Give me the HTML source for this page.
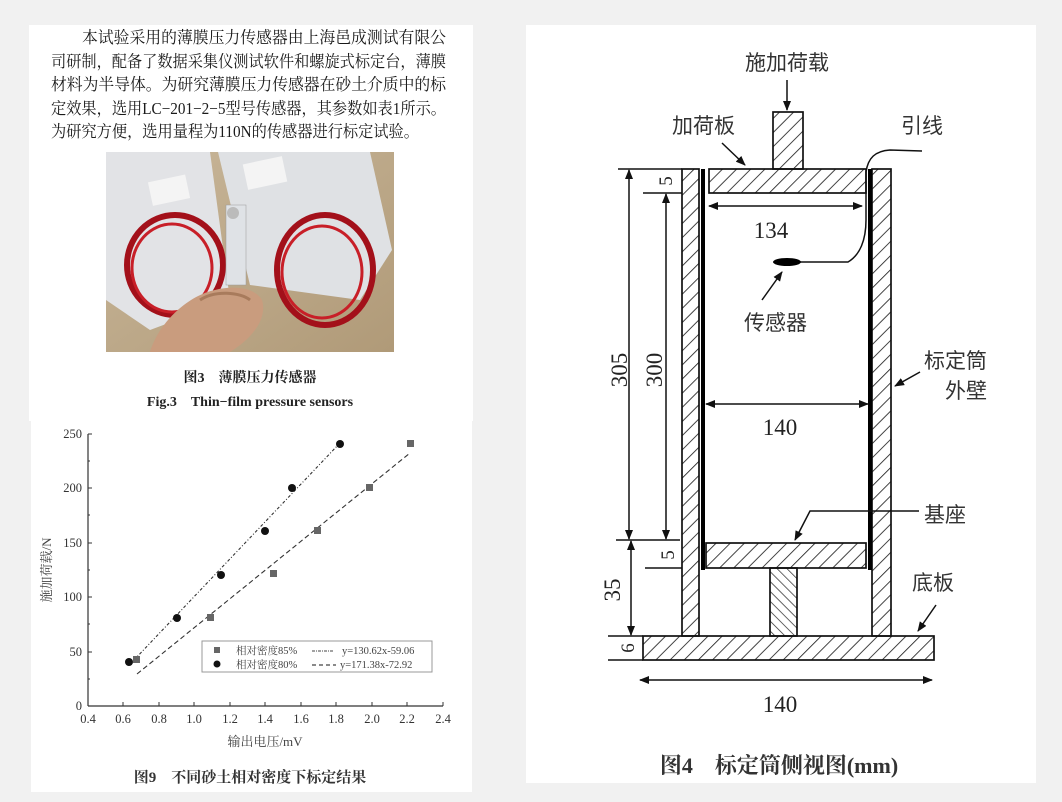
<!DOCTYPE html>
<html><head><meta charset="utf-8"><style>
html,body{margin:0;padding:0;background:#f1f1f1;width:1062px;height:802px;overflow:hidden}
svg{display:block}
.s{font-family:"Liberation Serif","Noto Serif CJK SC",serif}
.k{font-family:"Liberation Sans","Noto Sans CJK SC",sans-serif}
</style></head><body>
<svg width="1062" height="802" viewBox="0 0 1062 802" xmlns="http://www.w3.org/2000/svg">
<defs>
<pattern id="h" patternUnits="userSpaceOnUse" width="10" height="10" patternTransform="rotate(45)">
<line x1="0" y1="0" x2="0" y2="10" stroke="#222" stroke-width="1.7"/></pattern>
<pattern id="h2" patternUnits="userSpaceOnUse" width="7" height="7" patternTransform="rotate(-45)">
<line x1="0" y1="0" x2="0" y2="7" stroke="#222" stroke-width="1.4"/></pattern>
<marker id="a" markerWidth="10" markerHeight="8" refX="9" refY="4" orient="auto-start-reverse" markerUnits="userSpaceOnUse">
<path d="M0,0 L10,4 L0,8 Z" fill="#111"/></marker>
<linearGradient id="wood" x1="0" y1="0" x2="1" y2="1"><stop offset="0" stop-color="#c9b79a"/><stop offset="1" stop-color="#b09a78"/></linearGradient>
</defs>
<rect x="29" y="25" width="444" height="396" fill="#fff"/>
<rect x="31" y="421" width="441" height="371" fill="#fff"/>
<rect x="526" y="25" width="510" height="758" fill="#fff"/>

<g class="s" font-size="16.5" fill="#1a1a1a">
<text x="82" y="43" textLength="364" lengthAdjust="spacingAndGlyphs">本试验采用的薄膜压力传感器由上海邑成测试有限公</text>
<text x="51" y="67" textLength="395" lengthAdjust="spacingAndGlyphs">司研制，配备了数据采集仪测试软件和螺旋式标定台，薄膜</text>
<text x="51" y="90" textLength="395" lengthAdjust="spacingAndGlyphs">材料为半导体。为研究薄膜压力传感器在砂土介质中的标</text>
<text x="51" y="114" textLength="395" lengthAdjust="spacingAndGlyphs">定效果，选用LC−201−2−5型号传感器，其参数如表1所示。</text>
<text x="51" y="137" textLength="368" lengthAdjust="spacingAndGlyphs">为研究方便，选用量程为110N的传感器进行标定试验。</text>
</g>

<g>
<rect x="106" y="152" width="288" height="200" fill="url(#wood)"/>
<polygon points="106,152 210,152 230,300 150,330 106,300" fill="#e2e3e6"/>
<polygon points="218,152 370,152 392,250 360,300 250,285" fill="#dfe1e4"/>
<rect x="150" y="178" width="38" height="24" fill="#f4f4f4" transform="rotate(-12 170 190)"/>
<rect x="245" y="160" width="40" height="26" fill="#f4f4f4" transform="rotate(-12 265 173)"/>
<ellipse cx="175" cy="265" rx="48" ry="50" fill="none" stroke="#a3101a" stroke-width="6"/>
<ellipse cx="172" cy="268" rx="40" ry="44" fill="none" stroke="#c81f28" stroke-width="3"/>
<ellipse cx="325" cy="270" rx="48" ry="55" fill="none" stroke="#a3101a" stroke-width="6"/>
<ellipse cx="322" cy="272" rx="40" ry="46" fill="none" stroke="#c81f28" stroke-width="3"/>
<rect x="226" y="205" width="20" height="80" fill="#dfe2e6" stroke="#999" stroke-width="0.5"/>
<circle cx="233" cy="213" r="6" fill="#bbb"/>
<path d="M150,352 C160,320 190,295 215,290 C235,285 255,288 262,300 C268,320 250,340 230,352 Z" fill="#c99c7e"/>
<path d="M200,300 C215,290 240,292 250,300" stroke="#a87b5c" stroke-width="3" fill="none"/>
</g>

<g class="s" font-weight="bold" fill="#222" text-anchor="middle">
<text x="250" y="382" font-size="14">图3　薄膜压力传感器</text>
<text x="250" y="406" font-size="14">Fig.3　Thin−film pressure sensors</text>
</g>

<g stroke="#333" stroke-width="1.2" fill="none">
<line x1="88" y1="434" x2="88" y2="706"/>
<line x1="88" y1="706" x2="443" y2="706"/>
</g>
<g stroke="#333" stroke-width="1">
<line x1="88" y1="434" x2="92" y2="434"/><line x1="88" y1="461" x2="90" y2="461"/>
<line x1="88" y1="488" x2="92" y2="488"/><line x1="88" y1="515" x2="90" y2="515"/>
<line x1="88" y1="543" x2="92" y2="543"/><line x1="88" y1="570" x2="90" y2="570"/>
<line x1="88" y1="597" x2="92" y2="597"/><line x1="88" y1="624" x2="90" y2="624"/>
<line x1="88" y1="652" x2="92" y2="652"/><line x1="88" y1="679" x2="90" y2="679"/>
<line x1="123" y1="706" x2="123" y2="702"/><line x1="159" y1="706" x2="159" y2="702"/>
<line x1="194" y1="706" x2="194" y2="702"/><line x1="230" y1="706" x2="230" y2="702"/>
<line x1="265" y1="706" x2="265" y2="702"/><line x1="301" y1="706" x2="301" y2="702"/>
<line x1="336" y1="706" x2="336" y2="702"/><line x1="372" y1="706" x2="372" y2="702"/>
<line x1="407" y1="706" x2="407" y2="702"/><line x1="443" y1="706" x2="443" y2="702"/>
</g>
<g class="s" font-size="12.5" fill="#333" text-anchor="end">
<text x="82" y="438">250</text><text x="82" y="492">200</text><text x="82" y="547">150</text>
<text x="82" y="601">100</text><text x="82" y="656">50</text><text x="82" y="710">0</text>
</g>
<g class="s" font-size="12.5" fill="#333" text-anchor="middle">
<text x="88" y="723">0.4</text><text x="123" y="723">0.6</text><text x="159" y="723">0.8</text>
<text x="194" y="723">1.0</text><text x="230" y="723">1.2</text><text x="265" y="723">1.4</text>
<text x="301" y="723">1.6</text><text x="336" y="723">1.8</text><text x="372" y="723">2.0</text>
<text x="407" y="723">2.2</text><text x="443" y="723">2.4</text>
</g>
<text class="s" x="265" y="746" font-size="13" fill="#444" text-anchor="middle">输出电压/mV</text>
<text class="s" transform="translate(51 570) rotate(-90)" font-size="13" fill="#444" text-anchor="middle">施加荷载/N</text>
<line x1="134" y1="660" x2="339" y2="444" stroke="#333" stroke-width="1.1" stroke-dasharray="3,2,1,2"/>
<line x1="137" y1="674" x2="410" y2="453" stroke="#333" stroke-width="1.1" stroke-dasharray="5,3"/>
<g fill="#666">
<rect x="133" y="656" width="7" height="7"/><rect x="207" y="614" width="7" height="7"/>
<rect x="270" y="570" width="7" height="7"/><rect x="314" y="527" width="7" height="7"/>
<rect x="366" y="484" width="7" height="7"/><rect x="407" y="440" width="7" height="7"/>
</g>
<g fill="#111">
<circle cx="129" cy="662" r="4"/><circle cx="177" cy="618" r="4"/><circle cx="221" cy="575" r="4"/>
<circle cx="265" cy="531" r="4"/><circle cx="292" cy="488" r="4"/><circle cx="340" cy="444" r="4"/>
</g>
<rect x="202" y="641" width="230" height="31" fill="#fff" stroke="#999" stroke-width="1"/>
<rect x="214" y="647" width="6" height="6" fill="#666"/>
<circle cx="217" cy="664" r="3.5" fill="#111"/>
<g class="s" font-size="10.5" fill="#444">
<text x="236" y="654">相对密度85%</text><text x="236" y="668">相对密度80%</text>
<text x="342" y="654">y=130.62x-59.06</text><text x="340" y="668">y=171.38x-72.92</text>
</g>
<line x1="312" y1="651" x2="333" y2="651" stroke="#444" stroke-width="1" stroke-dasharray="3,1,1,1"/>
<line x1="312" y1="665" x2="336" y2="665" stroke="#444" stroke-width="1.2" stroke-dasharray="4,3"/>
<text class="s" x="250" y="782" font-size="15" font-weight="bold" fill="#333" text-anchor="middle">图9　不同砂土相对密度下标定结果</text>

<g stroke="#111" stroke-width="1.7">
<rect x="773" y="112" width="30" height="57" fill="url(#h)"/>
<rect x="709" y="169" width="157" height="24" fill="url(#h)"/>
<rect x="682" y="169" width="17" height="467" fill="url(#h)"/>
<rect x="872" y="169" width="19" height="467" fill="url(#h)"/>
<rect x="706" y="543" width="160" height="25" fill="url(#h)"/>
<rect x="770" y="568" width="27" height="68" fill="url(#h2)"/>
<rect x="643" y="636" width="291" height="24" fill="url(#h)"/>
</g>
<g stroke="#000" stroke-width="4">
<line x1="703" y1="169" x2="703" y2="570"/>
<line x1="870" y1="169" x2="870" y2="570"/>
</g>
<g stroke="#111" stroke-width="1.5" fill="none">
<line x1="618" y1="169" x2="682" y2="169"/>
<line x1="643" y1="193" x2="682" y2="193"/>
<line x1="616" y1="540" x2="680" y2="540"/>
<line x1="645" y1="568" x2="682" y2="568"/>
<line x1="608" y1="636" x2="643" y2="636"/>
<line x1="608" y1="660" x2="643" y2="660"/>
<line x1="629" y1="170" x2="629" y2="539" marker-start="url(#a)" marker-end="url(#a)"/>
<line x1="666" y1="194" x2="666" y2="539" marker-start="url(#a)" marker-end="url(#a)"/>
<line x1="631" y1="541" x2="631" y2="635" marker-start="url(#a)" marker-end="url(#a)"/>
<line x1="709" y1="206" x2="862" y2="206" marker-start="url(#a)" marker-end="url(#a)"/>
<line x1="706" y1="404" x2="868" y2="404" marker-start="url(#a)" marker-end="url(#a)"/>
<line x1="640" y1="680" x2="932" y2="680" marker-start="url(#a)" marker-end="url(#a)"/>
<line x1="787" y1="80" x2="787" y2="110" marker-end="url(#a)"/>
<line x1="722" y1="143" x2="745" y2="165" marker-end="url(#a)"/>
<line x1="762" y1="300" x2="782" y2="272" marker-end="url(#a)"/>
<line x1="920" y1="372" x2="895" y2="386" marker-end="url(#a)"/>
<polyline points="919,511 810,511 795,540" marker-end="url(#a)"/>
<line x1="936" y1="605" x2="918" y2="631" marker-end="url(#a)"/>
<path d="M800,262 L848,262 C860,255 866,240 866,220 L866,172 C868,158 875,151 890,150 L922,151"/>
</g>
<ellipse cx="787" cy="262" rx="14" ry="4" fill="#000"/>
<g class="k" font-size="21" fill="#333">
<text x="745" y="70">施加荷载</text>
<text x="672" y="133">加荷板</text>
<text x="901" y="133">引线</text>
<text x="744" y="330">传感器</text>
<text x="924" y="368">标定筒</text>
<text x="945" y="398">外壁</text>
<text x="924" y="522">基座</text>
<text x="912" y="590">底板</text>
</g>
<g class="s" font-size="23" fill="#222" text-anchor="middle">
<text x="771" y="238">134</text>
<text x="780" y="435">140</text>
<text x="780" y="712">140</text>
<text transform="translate(627 370) rotate(-90)">305</text>
<text transform="translate(662 370) rotate(-90)">300</text>
<text transform="translate(620 590) rotate(-90)">35</text>
<text transform="translate(672 181) rotate(-90)" font-size="19">5</text>
<text transform="translate(674 555) rotate(-90)" font-size="19">5</text>
<text transform="translate(634 648) rotate(-90)" font-size="19">6</text>
</g>
<text class="s" x="779" y="773" font-size="22" font-weight="bold" fill="#333" text-anchor="middle">图4　标定筒侧视图(mm)</text>
</svg>
</body></html>
